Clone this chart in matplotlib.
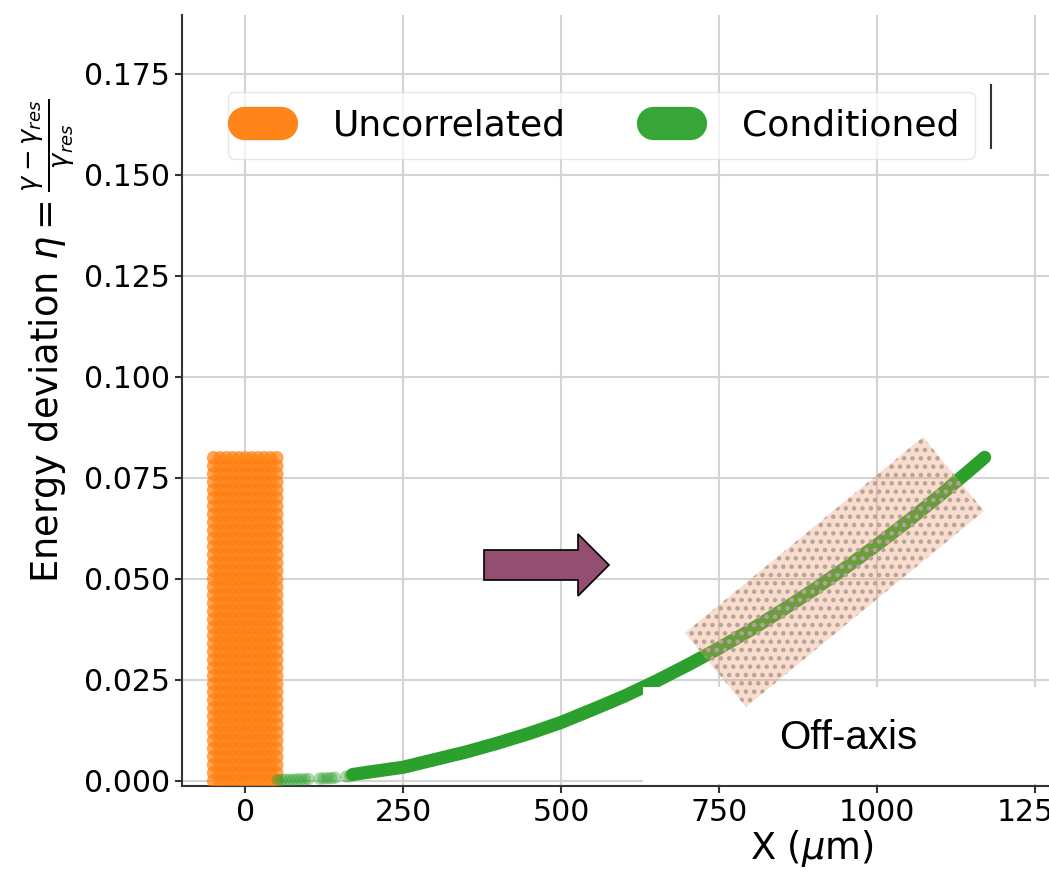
import numpy as np
import matplotlib.pyplot as plt
import matplotlib.patches as patches
import matplotlib.transforms as mtransforms
from matplotlib.lines import Line2D

W, H = 1049, 876

# uncorrelated beam: block of points, x in um, eta
unc_x = [-50, -40, -30, -20, -10, 0, 10, 20, 30, 40, 50]
unc_eta = [0.000, 0.002, 0.004, 0.006, 0.008, 0.010, 0.012, 0.014, 0.016, 0.018,
           0.020, 0.022, 0.024, 0.026, 0.028, 0.030, 0.032, 0.034, 0.036, 0.038,
           0.040, 0.042, 0.044, 0.046, 0.048, 0.050, 0.052, 0.054, 0.056, 0.058,
           0.060, 0.062, 0.064, 0.066, 0.068, 0.070, 0.072, 0.074, 0.076, 0.078, 0.080]

# conditioned beam: sparse start + dense curve
cond_start_x = [52, 58, 64, 70, 76, 82, 88, 94, 100, 118, 124, 130, 136, 142, 160, 166]
cond_start_eta = [0.0002, 0.0002, 0.0003, 0.0003, 0.0003, 0.0004, 0.0004, 0.0004, 0.0005,
                  0.0006, 0.0006, 0.0007, 0.0007, 0.0008, 0.0011, 0.0012]
cond_x = [170, 200, 250, 300, 350, 400, 450, 500, 550, 600, 650, 700, 750,
          800, 850, 900, 950, 1000, 1050, 1100, 1150, 1170]
cond_eta = [0.0016, 0.0023, 0.0034, 0.0053, 0.0072, 0.0094, 0.0118, 0.0145, 0.0177,
            0.0210, 0.0247, 0.0287, 0.0329, 0.0374, 0.0423, 0.0474, 0.0528, 0.0585,
            0.0645, 0.0708, 0.0774, 0.0801]

orange = '#ff7f0e'
green = '#2ca02c'

plt.rcParams['hatch.linewidth'] = 2.0

fig = plt.figure(figsize=(W / 100, H / 100), dpi=100)
ax = fig.add_axes([182 / W, 1 - 786 / H, 1.05 - 182 / W, (786 - 15) / H])
axw = W * 1.05 - 182

gx, gy = np.meshgrid(unc_x, unc_eta)
ax.scatter(gx.ravel(), gy.ravel(), s=95, color=orange, alpha=0.7, edgecolors='none', zorder=3)
ax.scatter(cond_start_x, cond_start_eta, s=80, color=green, alpha=0.4, edgecolors='none', zorder=3)
ax.plot(cond_x, cond_eta, color=green, lw=9.5, solid_capstyle='round', zorder=3)

ax.set_xlim(-100, -100 + axw / 0.632)
ax.set_ylim(-0.00124, 0.1896)
ax.set_xticks([0, 250, 500, 750, 1000, 1250])
ax.set_yticks([0, 0.025, 0.05, 0.075, 0.1, 0.125, 0.15, 0.175])
ax.set_yticklabels(['0.000', '0.025', '0.050', '0.075', '0.100', '0.125', '0.150', '0.175'])
ax.tick_params(labelsize=21.5, length=5, width=1.5, color='#333333')
ax.grid(True, color='#d4d4d4', lw=1.5)
ax.set_axisbelow(True)
for s in ['top', 'right']:
    ax.spines[s].set_visible(False)
for s in ['left', 'bottom']:
    ax.spines[s].set_color('#333333')
    ax.spines[s].set_linewidth(1.5)

ax.set_xlabel(r'X ($\mu$m)', fontsize=26.5)
ax.xaxis.set_label_coords((812 - 182) / axw, -0.055)
ax.set_ylabel(r'Energy deviation $\eta = \frac{\gamma - \gamma_{res}}{\gamma_{res}}$', fontsize=26.5)
ax.yaxis.set_label_coords((78 - 182) / axw, (786 - 341) / 771)

handles = [Line2D([0], [0], color=orange, lw=24, solid_capstyle='round', alpha=0.95),
           Line2D([0], [0], color=green, lw=24, solid_capstyle='round', alpha=0.95)]
leg = ax.legend(handles, ['Uncorrelated', 'Conditioned'], ncol=2, fontsize=26,
                loc='upper left', bbox_to_anchor=(228 / W, 1 - 92 / H),
                bbox_transform=fig.transFigure, borderaxespad=0, handlelength=1.02,
                handletextpad=1.43, columnspacing=2.42, borderpad=0.45,
                framealpha=0.7, edgecolor='#dddddd', fancybox=True)

# pixel-space transform for the overlay shapes
px = mtransforms.Affine2D().scale(1 / W, -1 / H).translate(0, 1) + fig.transFigure

white_box = patches.Rectangle((643, 687), W - 643 + 5, 784 - 687, transform=px,
                              facecolor='white', edgecolor='none', zorder=10, clip_on=False)
fig.patches.append(white_box)

band = patches.Polygon([(685, 633), (923, 437), (984, 511), (746, 707)], closed=True,
                       transform=px, facecolor=(0.95, 0.58, 0.38, 0.32), edgecolor='#b5a39e',
                       lw=0, hatch='..', zorder=11)
fig.patches.append(band)

arrow = patches.FancyArrow(484, 565, 125, 0, width=30, head_width=62, head_length=31,
                           length_includes_head=True, transform=px, facecolor='#944e6f',
                           edgecolor='black', lw=1.2, zorder=12)
fig.patches.append(arrow)

fig.lines.append(Line2D([991, 991], [85, 148], transform=px, color='#333333', lw=1.5))

fig.text(848 / W, 1 - 738 / H, 'Off-axis', fontsize=29, family='Liberation Sans',
         ha='center', va='center', zorder=13)

fig.savefig('out.png', dpi=100)
